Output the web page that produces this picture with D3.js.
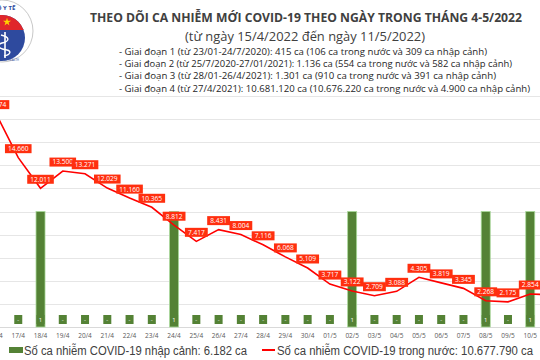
<!DOCTYPE html>
<html>
<head>
<meta charset="utf-8">
<script src="https://cdn.jsdelivr.net/npm/d3@7"></script>
<style>
body{margin:0;background:#fff}
svg{display:block;font-family:"Open Sans",sans-serif}
</style>
</head>
<body>
<svg id="chart" width="540" height="360"></svg>
<script>
// ngay 16/4 -> 11/5 (15/4 nam ngoai khung hinh)
var days=["16/4","17/4","18/4","19/4","20/4","21/4","22/4","23/4","24/4","25/4","26/4","27/4","28/4","29/4","30/4",
"01/5","02/5","03/5","04/5","05/5","06/5","07/5","08/5","09/5","10/5","11/5"]
var trongNuoc=[18474,14660,12011,13500,13271,12029,11160,10365,8812,7417,8431,8004,7116,6068,5109,
3717,3122,2709,3088,4305,3819,3345,2268,2175,2854,2790]
var nhapCanh=[0,0,1,0,0,0,0,0,1,0,0,0,0,0,0,0,1,0,0,0,0,0,1,0,1,0]
var yTicks=[0,2000,4000,6000,8000,10000,12000,14000,16000,18000,20000]
var ghiChu=["- Giai đoạn 1 (từ 23/01-24/7/2020): 415 ca (106 ca trong nước và 309 ca nhập cảnh)",
"- Giai đoạn 2 (từ 25/7/2020-27/01/2021): 1.136 ca (554 ca trong nước và 582 ca nhập cảnh)",
"- Giai đoạn 3 (từ 28/01-26/4/2021): 1.301 ca (910 ca trong nước và 391 ca nhập cảnh)",
"- Giai đoạn 4 (từ 27/4/2021): 10.681.120 ca (10.676.220 ca trong nước và 4.900 ca nhập cảnh)"]
var ghiChuW=[368,393,377,411]

var svg=d3.select("#chart")
var fmt=d3.format(",")
var vn=(v)=>fmt(v).replace(/,/g,".")

var x=d3.scalePoint().domain(days).range([-4,-4+22.26*(days.length-1)])
var y=d3.scaleLinear().domain([0,20000]).range([327,96])
var y2=d3.scaleLinear().domain([0,2]).range([327,96])

// luoi ngang
svg.selectAll(".grid").data(yTicks).enter().append("line")
.attr("class","grid")
.attr("x1",0).attr("x2",540)
.attr("y1",(d)=>Math.round(y(d))+0.5).attr("y2",(d)=>Math.round(y(d))+0.5)
.attr("stroke",(d)=>d==0?"#d9d9d9":"#e6e6e6").attr("stroke-width",1)

// cot nhap canh
svg.selectAll(".bar").data(nhapCanh).enter().append("rect")
.attr("class","bar")
.attr("x",(d,i)=>x(days[i])-4.5).attr("width",9)
.attr("y",(d)=>y2(d)).attr("height",(d)=>y2(0)-y2(d))
.attr("fill","#548235").attr("stroke",(d)=>d>0?"#a9d99a":"none").attr("stroke-width",0.8)

svg.selectAll(".barlbl").data(nhapCanh).enter().append("rect")
.attr("class","barlbl")
.attr("x",(d,i)=>x(days[i])-4).attr("y",315).attr("width",8).attr("height",9)
.attr("fill","#548235")
svg.selectAll(".bartxt").data(nhapCanh).enter().append("text")
.attr("class","bartxt")
.attr("x",(d,i)=>x(days[i])).attr("y",322)
.attr("text-anchor","middle").attr("fill","#fff").attr("font-size","6px")
.text((d)=>d==0?"-":d)

// truc x
svg.selectAll(".xlbl").data(days).enter().append("text")
.attr("class","xlbl")
.attr("x",(d)=>x(d)).attr("y",338)
.attr("text-anchor","middle").attr("fill","#595959").attr("font-size","6.5px")
.text((d)=>d)

// duong trong nuoc
var line=d3.line().x((d,i)=>x(days[i])).y((d)=>y(d))
svg.append("path").datum(trongNuoc)
.attr("d",line).attr("fill","none").attr("stroke","#ff0000").attr("stroke-width",1.6)

var lbl=svg.selectAll(".vl").data(trongNuoc).enter().append("g").attr("class","vl")
.attr("transform",(d,i)=>"translate("+x(days[i])+","+(y(d)-9)+")")
lbl.filter((d,i)=>i<days.length-1).each(function(d){
	var g=d3.select(this)
	var r=g.append("rect").attr("fill","#ff2f0f")
	var t=g.append("text").attr("text-anchor","middle").attr("y",2.4)
	.attr("fill","#fff").attr("font-size","6.6px").text(vn(d))
	var w=t.node().getComputedTextLength()+6
	r.attr("x",-w/2).attr("y",-4.5).attr("width",w).attr("height",9)
})

// tieu de
svg.append("text").attr("x",306).attr("y",22).attr("text-anchor","middle")
.attr("font-size","13px").attr("font-weight","bold").attr("fill","#404040")
.attr("textLength",432).attr("lengthAdjust","spacingAndGlyphs")
.text("THEO DÕI CA NHIỄM MỚI COVID-19 THEO NGÀY TRONG THÁNG 4-5/2022")
svg.append("text").attr("x",305).attr("y",41).attr("text-anchor","middle")
.attr("font-size","12.5px").attr("fill","#404040")
.attr("textLength",240).attr("lengthAdjust","spacingAndGlyphs")
.text("(từ ngày 15/4/2022 đến ngày 11/5/2022)")
svg.selectAll(".gc").data(ghiChu).enter().append("text")
.attr("class","gc")
.attr("x",119).attr("y",(d,i)=>55+i*12.2)
.attr("font-size","9.5px").attr("fill","#262626")
.attr("textLength",(d,i)=>ghiChuW[i]).attr("lengthAdjust","spacingAndGlyphs")
.text((d)=>d)

// logo bo y te
var logo=svg.append("g").attr("transform","translate(2,31)")
logo.append("circle").attr("r",31).attr("fill","#fff").attr("stroke","#c8c8c8").attr("stroke-width",1)
logo.append("clipPath").attr("id","lc").append("circle").attr("cy",7).attr("r",23)
var inner=logo.append("g").attr("clip-path","url(#lc)")
inner.append("rect").attr("x",-30).attr("y",-20).attr("width",60).attr("height",60).attr("fill","#2e4a9e")
inner.append("rect").attr("x",-30).attr("y",-20).attr("width",60).attr("height",19).attr("fill","#e0262b")
logo.append("path").attr("d",d3.symbol(d3.symbolStar,20)()).attr("transform","translate(5,-9)").attr("fill","#ffd400")
logo.append("line").attr("x1",3).attr("y1",1).attr("x2",3).attr("y2",27).attr("stroke","#fff").attr("stroke-width",1.6)
logo.append("path").attr("d","M-1,4 C8,6 8,10 0,12 C-6,14 -4,18 5,19 C10,20 8,24 2,25")
.attr("fill","none").attr("stroke","#fff").attr("stroke-width",1.4)
logo.append("text").attr("x",2).attr("y",-21).attr("text-anchor","middle")
.attr("font-size","6px").attr("font-weight","bold").attr("fill","#2e4a9e").text("BỘ Y TẾ")
logo.append("text").attr("x",2).attr("y",30).attr("text-anchor","middle")
.attr("font-size","3px").attr("fill","#2e4a9e").text("MINISTRY OF HEALTH")

// chu thich
svg.append("rect").attr("x",9).attr("y",347).attr("width",14).attr("height",6).attr("fill","#548235")
svg.append("text").attr("x",24).attr("y",355).attr("font-family","'Liberation Sans',Arial,sans-serif")
.attr("font-size","12.5px").attr("fill","#404040")
.attr("textLength",223).attr("lengthAdjust","spacingAndGlyphs")
.text("Số ca nhiễm COVID-19 nhập cảnh: 6.182 ca")
svg.append("line").attr("x1",262).attr("x2",275).attr("y1",350).attr("y2",350)
.attr("stroke","#ff0000").attr("stroke-width",2)
svg.append("text").attr("x",277).attr("y",355).attr("font-family","'Liberation Sans',Arial,sans-serif")
.attr("font-size","12.5px").attr("fill","#404040")
.attr("textLength",256).attr("lengthAdjust","spacingAndGlyphs")
.text("Số ca nhiễm COVID-19 trong nước: 10.677.790 ca")
</script>
</body>
</html>
